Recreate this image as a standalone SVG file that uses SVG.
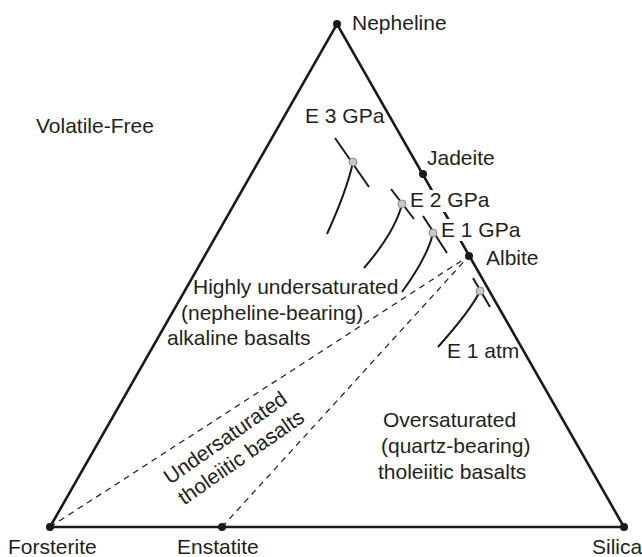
<svg xmlns="http://www.w3.org/2000/svg" width="642" height="557" viewBox="0 0 642 557">
<style>
text{font-family:"Liberation Sans",Arial,sans-serif;font-size:21px;fill:#231f20}
.edge{stroke:#1a1a1a;stroke-width:2.6;fill:none;stroke-linecap:round}
.dash{stroke:#1a1a1a;stroke-width:1.2;fill:none;stroke-dasharray:6 5}
.vtx{fill:#1a1a1a}
.cot{stroke:#1a1a1a;stroke-width:2;fill:none}
.ed{fill:#c8c8c8;stroke:#8a8a8a;stroke-width:1}
</style>
<rect width="642" height="557" fill="#fff"/>
<g id="connectors">
<path class="edge" d="M50,527 L337,24 L624,527 Z"/>
<path class="dash" d="M50,527 L469,256"/>
<path class="dash" d="M222,527 L469,256"/>
</g>
<g id="label-masks" fill="#fff">
<rect x="408" y="190" width="80" height="22"/>
<rect x="439" y="219" width="80" height="22"/>
</g>
<g id="nepheline"><circle class="vtx" cx="337" cy="24" r="4"/><text x="352" y="30">Nepheline</text></g>
<g id="jadeite"><circle class="vtx" cx="423" cy="174" r="4"/><text x="427" y="165">Jadeite</text></g>
<g id="albite"><circle class="vtx" cx="469" cy="256" r="4"/><text x="486" y="265">Albite</text></g>
<g id="forsterite"><circle class="vtx" cx="50" cy="527" r="4"/><text x="8" y="554">Forsterite</text></g>
<g id="enstatite"><circle class="vtx" cx="222" cy="527" r="4"/><text x="177" y="554">Enstatite</text></g>
<g id="silica"><circle class="vtx" cx="624" cy="527" r="4"/><text x="592" y="554">Silica</text></g>
<g id="e3gpa">
<path class="cot" d="M335,138 L369,187"/>
<path class="cot" d="M353,162 Q347,190 327,234"/>
<circle class="ed" cx="353" cy="162" r="4"/>
<text x="305" y="123">E 3 GPa</text>
</g>
<g id="e2gpa">
<path class="cot" d="M391,189 L414,219"/>
<path class="cot" d="M402,204 Q395,232 364,268"/>
<circle class="ed" cx="402" cy="204" r="4"/>
<text x="410" y="207">E 2 GPa</text>
</g>
<g id="e1gpa">
<path class="cot" d="M423,216 L447,253"/>
<path class="cot" d="M433,233 Q428,256 402,292"/>
<circle class="ed" cx="433" cy="233" r="4"/>
<text x="441" y="237">E 1 GPa</text>
</g>
<g id="e1atm">
<path class="cot" d="M473,278 L490,307"/>
<path class="cot" d="M480,291 Q471,310 438,347"/>
<circle class="ed" cx="480" cy="291" r="4"/>
<text x="447" y="358">E 1 atm</text>
</g>
<g id="volatile-free"><text x="36" y="133">Volatile-Free</text></g>
<g id="highly-undersaturated">
<text x="193" y="294">Highly undersaturated</text>
<text x="181" y="320">(nepheline-bearing)</text>
<text x="167" y="345">alkaline basalts</text>
</g>
<g id="undersaturated" transform="translate(170,485) rotate(-35)">
<text x="0" y="0">Undersaturated</text>
<text x="0" y="25">tholeiitic basalts</text>
</g>
<g id="oversaturated">
<text x="383" y="427">Oversaturated</text>
<text x="381" y="453">(quartz-bearing)</text>
<text x="378" y="479">tholeiitic basalts</text>
</g>
</svg>
